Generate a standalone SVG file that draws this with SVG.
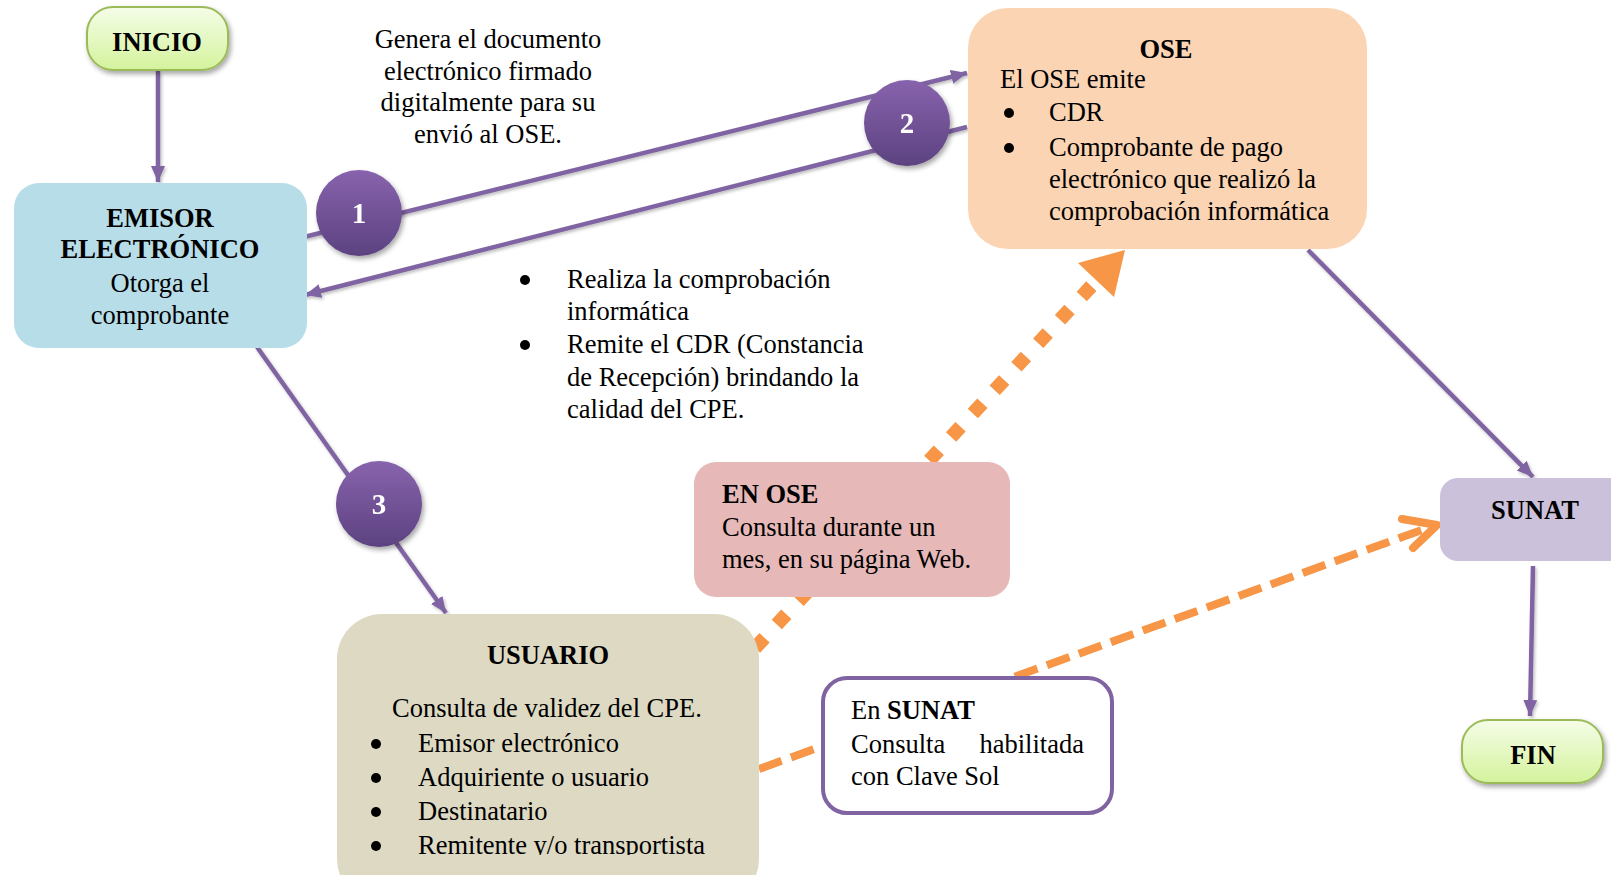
<svg xmlns="http://www.w3.org/2000/svg" width="1611" height="875" viewBox="0 0 1611 875">
<style>
.t{font-family:"Liberation Serif","Times New Roman",serif;font-size:26.5px;fill:#000}
.b{font-weight:bold}
.c{text-anchor:middle}
.bl{fill:#000}
.num{font-family:"Liberation Serif","Times New Roman",serif;font-size:29px;font-weight:bold;fill:#fff;text-anchor:middle}
.pl{fill:none;stroke:#8064a2;stroke-width:4.5}
.term{stroke:#9bbb59;stroke-width:2}
</style>
<defs>
<marker id="ah" markerUnits="userSpaceOnUse" markerWidth="18" markerHeight="16" refX="16" refY="7" orient="auto">
<path d="M0,0 L16,7 L0,14 Z" fill="#8064a2"/>
</marker>
<linearGradient id="gTerm" x1="0" y1="0" x2="0" y2="1">
<stop offset="0" stop-color="#f5fde8"/>
<stop offset="1" stop-color="#d4f39c"/>
</linearGradient>
<linearGradient id="gCirc" x1="0" y1="0" x2="0" y2="1">
<stop offset="0" stop-color="#8863ad"/>
<stop offset="1" stop-color="#5c4280"/>
</linearGradient>
<filter id="sh" x="-30%" y="-30%" width="160%" height="160%">
<feDropShadow dx="2" dy="3" stdDeviation="2.5" flood-color="#000" flood-opacity="0.35"/>
</filter>
<filter id="lsh" x="-10%" y="-10%" width="120%" height="120%">
<feDropShadow dx="1.5" dy="2" stdDeviation="1.5" flood-color="#000" flood-opacity="0.25"/>
</filter>
<clipPath id="clipU"><rect x="330" y="600" width="440" height="255"/></clipPath>
</defs>
<rect width="1611" height="875" fill="#fff"/>

<g id="connectors">
<g filter="url(#lsh)">
<path class="pl" d="M158,71 L158,182" marker-end="url(#ah)"/>
<path class="pl" d="M304,237 L967,73" marker-end="url(#ah)"/>
<path class="pl" d="M967,127 L305,295" marker-end="url(#ah)"/>
<path class="pl" d="M257,347 L446,613" marker-end="url(#ah)"/>
<path class="pl" d="M1308,250 L1533,477" marker-end="url(#ah)"/>
<path class="pl" d="M1533,566 L1530,716" marker-end="url(#ah)"/>
</g>
<path d="M755,648 L1097,280" fill="none" stroke="#f79646" stroke-width="14" stroke-dasharray="14 18"/>
<polygon points="1125,250 1078,263 1114,297" fill="#f79646"/>
<path d="M759,769 L1430,527" fill="none" stroke="#f79646" stroke-width="8" stroke-dasharray="24 10"/>
<polyline points="1402,519 1437,525 1413,548" fill="none" stroke="#f79646" stroke-width="8" stroke-linecap="round" stroke-linejoin="round"/>
</g>

<g id="step1" filter="url(#sh)">
<circle cx="359" cy="213" r="43" fill="url(#gCirc)"/>
<text class="num" x="359" y="223">1</text>
</g>
<g id="step2" filter="url(#sh)">
<circle cx="907" cy="123" r="43" fill="url(#gCirc)"/>
<text class="num" x="907" y="133">2</text>
</g>
<g id="step3" filter="url(#sh)">
<circle cx="379" cy="504" r="43" fill="url(#gCirc)"/>
<text class="num" x="379" y="514">3</text>
</g>

<g id="inicio">
<rect x="87" y="7" width="141" height="63" rx="26" fill="url(#gTerm)" class="term" filter="url(#sh)"/>
<text class="t b c" x="157" y="51">INICIO</text>
</g>

<g id="emisor">
<rect x="14" y="183" width="293" height="165" rx="25" fill="#b7dde8"/>
<text class="t b c" x="160" y="227">EMISOR</text>
<text class="t b c" x="160" y="258">ELECTRÓNICO</text>
<text class="t c" x="160" y="292">Otorga el</text>
<text class="t c" x="160" y="324">comprobante</text>
</g>

<g id="nota-genera">
<text class="t c" x="488" y="48">Genera el documento</text>
<text class="t c" x="488" y="80">electrónico firmado</text>
<text class="t c" x="488" y="111">digitalmente para su</text>
<text class="t c" x="488" y="143">envió al OSE.</text>
</g>

<g id="nota-realiza">
<circle class="bl" cx="525" cy="280" r="5"/>
<text class="t" x="567" y="288">Realiza la comprobación</text>
<text class="t" x="567" y="320">informática</text>
<circle class="bl" cx="525" cy="345" r="5"/>
<text class="t" x="567" y="353">Remite el CDR (Constancia</text>
<text class="t" x="567" y="386">de Recepción) brindando la</text>
<text class="t" x="567" y="418">calidad del CPE.</text>
</g>

<g id="ose">
<rect x="968" y="8" width="399" height="241" rx="40" fill="#fbd4b4"/>
<text class="t b c" x="1166" y="58">OSE</text>
<text class="t" x="1000" y="88">El OSE emite</text>
<circle class="bl" cx="1009" cy="113" r="5"/>
<text class="t" x="1049" y="121">CDR</text>
<circle class="bl" cx="1009" cy="148" r="5"/>
<text class="t" x="1049" y="156">Comprobante de pago</text>
<text class="t" x="1049" y="188">electrónico que realizó la</text>
<text class="t" x="1049" y="220">comprobación informática</text>
</g>

<g id="en-ose">
<rect x="694" y="462" width="316" height="135" rx="22" fill="#e6b9b8"/>
<text class="t b" x="722" y="503">EN OSE</text>
<text class="t" x="722" y="536">Consulta durante un</text>
<text class="t" x="722" y="568">mes, en su página Web.</text>
</g>

<g id="usuario">
<rect x="337" y="614" width="422" height="290" rx="45" fill="#ddd9c3"/>
<g clip-path="url(#clipU)">
<text class="t b c" x="548" y="664">USUARIO</text>
<text class="t" x="392" y="717">Consulta de validez del CPE.</text>
<circle class="bl" cx="376" cy="744" r="5"/>
<text class="t" x="418" y="752">Emisor electrónico</text>
<circle class="bl" cx="376" cy="778" r="5"/>
<text class="t" x="418" y="786">Adquiriente o usuario</text>
<circle class="bl" cx="376" cy="812" r="5"/>
<text class="t" x="418" y="820">Destinatario</text>
<circle class="bl" cx="376" cy="846" r="5"/>
<text class="t" x="418" y="854">Remitente y/o transportista</text>
</g>
</g>

<g id="en-sunat">
<rect x="823" y="678" width="289" height="135" rx="24" fill="#fff" stroke="#8064a2" stroke-width="4"/>
<text class="t" x="851" y="719">En <tspan class="b">SUNAT</tspan></text>
<text class="t" x="851" y="753">Consulta</text>
<text class="t" x="1084" y="753" text-anchor="end">habilitada</text>
<text class="t" x="851" y="785">con Clave Sol</text>
</g>

<g id="sunat">
<rect x="1440" y="478" width="190" height="83" rx="18" fill="#ccc1da"/>
<text class="t b c" x="1535" y="519">SUNAT</text>
</g>

<g id="fin">
<rect x="1462" y="720" width="141" height="63" rx="26" fill="url(#gTerm)" class="term" filter="url(#sh)"/>
<text class="t b c" x="1533" y="764">FIN</text>
</g>
</svg>
